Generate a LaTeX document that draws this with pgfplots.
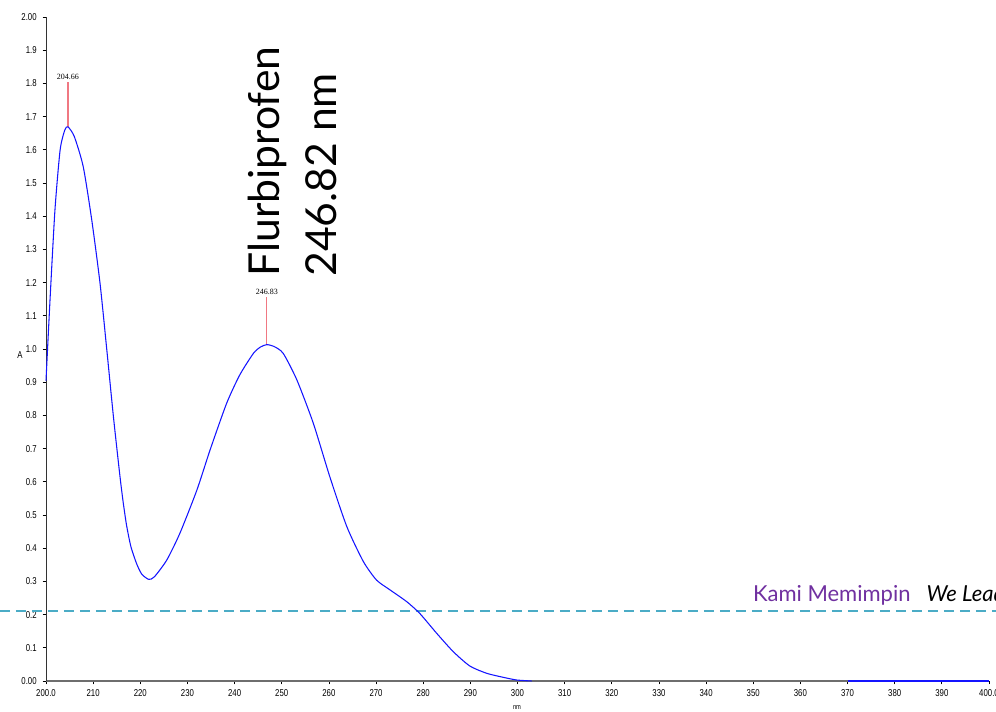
\documentclass[border=0pt]{standalone}
\usepackage{fontspec}
\setmainfont{Liberation Sans}
\newfontfamily\tickfont[FakeStretch=0.78]{Liberation Sans}
\newfontfamily\peakfont{Liberation Serif}
\newfontfamily\gill{Lato}
\usepackage{pgfplots}
\pgfplotsset{compat=1.18}
\definecolor{specblue}{RGB}{20,20,255}
\definecolor{peakred}{RGB}{240,120,130}
\definecolor{dashblue}{RGB}{75,172,198}
\definecolor{kamipurple}{RGB}{112,48,160}
\definecolor{axisgrey}{RGB}{110,110,110}

\begin{document}
\begin{tikzpicture}
\begin{axis}[
  name=ax,
  scale only axis,
  width=707.25pt, height=498pt,
  xmin=200, xmax=400, ymin=0, ymax=2,
  enlargelimits=false,
  clip=false,
  axis lines*=left,
  axis line style={draw=black!80},
  x axis line style={draw=axisgrey, line width=1pt},
  tick align=outside,
  major tick length=2.5pt,
  tick style={black, line width=0.6pt},
  xtick={200,210,...,400},
  xticklabels={200.0,210,220,230,240,250,260,270,280,290,300,310,320,330,340,350,360,370,380,390,400.0},
  ytick={0,0.1,...,2.0},
  yticklabels={0.00,0.1,0.2,0.3,0.4,0.5,0.6,0.7,0.8,0.9,1.0,1.1,1.2,1.3,1.4,1.5,1.6,1.7,1.8,1.9,2.00},
  ticklabel style={font=\tickfont\fontsize{7.5}{8}\selectfont},
  yticklabel style={xshift=-1pt},
  xlabel={nm},
  xlabel style={font=\tickfont\fontsize{5.5}{6}\selectfont, at={(axis description cs:0.4995,-0.0407)}, anchor=center},
  ylabel={A},
  ylabel style={font=\tickfont\fontsize{7.5}{8}\selectfont, rotate=-90, at={(axis description cs:-0.0276,0.491)}, anchor=center},
]
% dashed reference line
\addplot[dashblue, line width=1.5pt, dash pattern=on 7.5pt off 4.5pt] coordinates {(190.2,0.211) (401.6,0.211)};
% peak markers
\addplot[peakred, line width=0.8pt] coordinates {(204.66,1.669) (204.66,1.804)};
\addplot[peakred, line width=0.8pt] coordinates {(246.83,1.015) (246.83,1.157)};
% spectrum
\addplot[specblue, line width=0.8pt, smooth, tension=0.4] coordinates {
(200.0,0.905) (200.85,1.147) (201.9,1.419) (203.0,1.600) (204.0,1.660) (204.66,1.669)
(206.0,1.640) (207.9,1.549) (209.7,1.389) (211.45,1.199) (212.9,0.997) (214.3,0.796)
(215.7,0.615) (216.4,0.535) (217.1,0.468) (218.0,0.405) (219.2,0.354) (220.3,0.322)
(221.8,0.306) (223.0,0.314) (225.6,0.364) (228.4,0.445) (232.0,0.575) (234.8,0.696)
(238.3,0.836) (241.1,0.922) (244.0,0.987) (245.5,1.006) (246.8,1.013) (248.3,1.008)
(250.3,0.987) (253.2,0.907) (256.7,0.776) (260.2,0.615) (263.8,0.465) (267.3,0.360)
(270.1,0.304) (273.0,0.274) (276.5,0.239) (279.3,0.203) (282.9,0.143) (286.4,0.088)
(289.9,0.045) (293.5,0.023) (297.0,0.011) (299.8,0.003) (303.0,0.0)
};
\addplot[specblue, line width=1pt] coordinates {(370,0) (400,0)};
% labels
\node[font=\peakfont\fontsize{6}{6}\selectfont, anchor=south, inner sep=1pt] at (axis cs:204.66,1.806) {204.66};
\node[font=\peakfont\fontsize{6}{6}\selectfont, anchor=south, inner sep=1pt] at (axis cs:246.83,1.159) {246.83};
\node[font=\gill\fontsize{32}{32}\selectfont, rotate=90, anchor=base west, inner sep=0pt] at (axis cs:249.6,1.217) {Flurbiprofen};
\node[font=\gill\fontsize{32}{32}\selectfont, rotate=90, anchor=base west, inner sep=0pt] at (axis cs:261.7,1.217) {246.82 nm};
\node[font=\gill\fontsize{16.5}{17}\selectfont, anchor=base west, inner sep=0pt] at (axis cs:349.9,0.238) {\textcolor{kamipurple}{Kami Memimpin}\hspace{12pt}\textit{We Lead}};
\end{axis}
\pgfresetboundingbox
\path[use as bounding box] ([shift={(-34.5pt,-23.25pt)}]ax.south west) rectangle ([shift={(712.5pt,510.75pt)}]ax.south west);
\end{tikzpicture}
\end{document}
